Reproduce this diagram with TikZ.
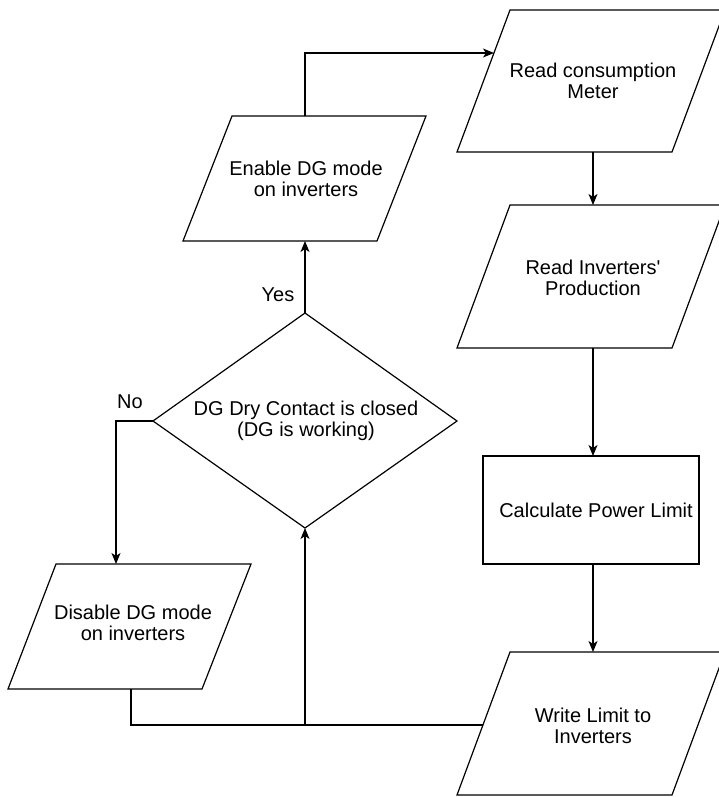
\documentclass[tikz,border=0pt]{standalone}
\usepackage{fontspec}
\setmainfont{Liberation Sans}
\usetikzlibrary{arrows.meta}
\begin{document}
\begin{tikzpicture}[x=1pt,y=-1pt, line width=1.2pt,
  lbl/.style={font=\fontsize{20}{21.5}\selectfont, align=center, inner sep=0pt},
  conn/.style={-{Stealth[length=11pt,width=9pt,inset=3pt]}},
  box/.style={draw, line join=miter}]
\useasboundingbox (0,0) rectangle (718,797);
% shapes
\draw[box] (510,10) -- (725,10) -- (672,152) -- (457,152) -- cycle;
\draw[box] (510,205) -- (725,205) -- (672,348) -- (457,348) -- cycle;
\draw[box] (483,456) rectangle (699,564);
\draw[box] (510,652) -- (725,652) -- (672,795) -- (457,795) -- cycle;
\draw[box] (232,116) -- (426,116) -- (377,241) -- (183,241) -- cycle;
\draw[box] (56,564) -- (251,564) -- (202,689) -- (8,689) -- cycle;
\draw[box] (305,313) -- (457,421) -- (305,528) -- (153,421) -- cycle;
% texts
\node[lbl] (rc) at (593,81) {Read consumption\\Meter};
\node[lbl] (ri) at (593,278) {Read Inverters\textquotesingle\\Production};
\node[lbl] (cp) at (596,510) {Calculate Power Limit};
\node[lbl] (wl) at (593,726) {Write Limit to\\Inverters};
\node[lbl] (en) at (306,179) {Enable DG mode\\on inverters};
\node[lbl] (di) at (133,623) {Disable DG mode\\on inverters};
\node[lbl] (dg) at (306,421) {DG Dry Contact is closed\\(DG is working)};
\node[lbl] (yes) at (278,295) {Yes};
\node[lbl] (no) at (130,402) {No};
% connection points
\coordinate (rc-s) at (593,152);
\coordinate (rc-w) at (494,53);
\coordinate (ri-n) at (593,205);
\coordinate (ri-s) at (593,348);
\coordinate (cp-n) at (593,456);
\coordinate (cp-s) at (593,564);
\coordinate (wl-n) at (593,652);
\coordinate (wl-w) at (483,725);
\coordinate (en-n) at (305,116);
\coordinate (en-s) at (305,241);
\coordinate (di-n) at (116,564);
\coordinate (di-s) at (131,689);
\coordinate (dg-n) at (305,313);
\coordinate (dg-s) at (305,528);
\coordinate (dg-w) at (153,421);
\coordinate (j) at (305,725);
% connectors
\draw[conn] (rc-s) -- (ri-n);
\draw[conn] (ri-s) -- (cp-n);
\draw[conn] (cp-s) -- (wl-n);
\draw[conn] (dg-n) -- (en-s);
\draw[conn] (en-n) |- (rc-w);
\draw[conn] (dg-w) -| (di-n);
\draw (wl-w) -- (j) -| (di-s);
\draw[conn] (j) -- (dg-s);
\end{tikzpicture}
\end{document}
